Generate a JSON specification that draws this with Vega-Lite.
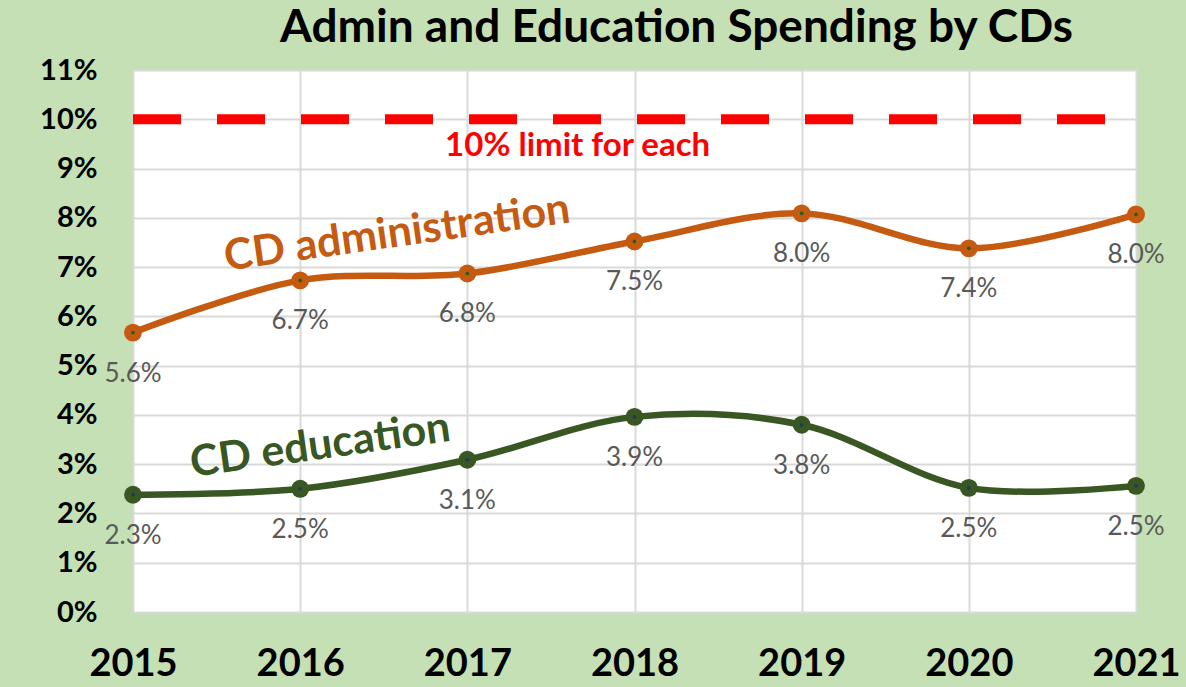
{
  "$schema": "https://vega.github.io/schema/vega-lite/v6.json",
  "width": 1003,
  "height": 542,
  "autosize": {"type": "none"},
  "padding": {"left": 133, "top": 70, "right": 50, "bottom": 75},
  "background": "#c5e0b4",
  "view": {"fill": "white", "stroke": null},
  "title": {
    "text": "Admin and Education Spending by CDs",
    "font": "Lato",
    "fontSize": 46,
    "fontWeight": "bold",
    "color": "black",
    "anchor": "middle",
    "frame": "group",
    "dx": 42,
    "baseline": "alphabetic",
    "offset": -32
  },
  "config": {"font": "Lato"},
  "datasets": {
    "series": [
      {"year": 2015, "series": "CD administration", "value": 0.0567, "label": "5.6%"},
      {"year": 2016, "series": "CD administration", "value": 0.0673, "label": "6.7%"},
      {"year": 2017, "series": "CD administration", "value": 0.0687, "label": "6.8%"},
      {"year": 2018, "series": "CD administration", "value": 0.0752, "label": "7.5%"},
      {"year": 2019, "series": "CD administration", "value": 0.0809, "label": "8.0%"},
      {"year": 2020, "series": "CD administration", "value": 0.0738, "label": "7.4%"},
      {"year": 2021, "series": "CD administration", "value": 0.0807, "label": "8.0%"},
      {"year": 2015, "series": "CD education", "value": 0.0238, "label": "2.3%"},
      {"year": 2016, "series": "CD education", "value": 0.0250, "label": "2.5%"},
      {"year": 2017, "series": "CD education", "value": 0.0309, "label": "3.1%"},
      {"year": 2018, "series": "CD education", "value": 0.0396, "label": "3.9%"},
      {"year": 2019, "series": "CD education", "value": 0.0380, "label": "3.8%"},
      {"year": 2020, "series": "CD education", "value": 0.0252, "label": "2.5%"},
      {"year": 2021, "series": "CD education", "value": 0.0256, "label": "2.5%"}
    ],
    "notes": [
      {"x": 2016.58, "y": 0.0768, "series": "CD administration", "text": "CD administration"},
      {"x": 2016.12, "y": 0.0337, "series": "CD education", "text": "CD education"}
    ],
    "limit": [
      {"x": 2017.66, "y": 0.0945, "text": "10% limit for each", "limit": 0.10, "start": 2015, "end": 2021}
    ]
  },
  "encoding": {
    "x": {
      "field": "year",
      "type": "quantitative",
      "scale": {"domain": [2015, 2021], "nice": false, "zero": false},
      "axis": {
        "title": null,
        "values": [2015, 2016, 2017, 2018, 2019, 2020, 2021],
        "format": "d",
        "labelFont": "Lato",
        "labelFontSize": 38,
        "labelFontWeight": "bold",
        "labelColor": "black",
        "labelPadding": 33,
        "labelBaseline": "top",
        "labelFlush": false,
        "ticks": false,
        "domain": false,
        "grid": true,
        "gridColor": "#d9d9d9",
        "gridWidth": 2
      }
    },
    "y": {
      "field": "value",
      "type": "quantitative",
      "scale": {"domain": [0, 0.11], "nice": false},
      "axis": {
        "title": null,
        "values": [0, 0.01, 0.02, 0.03, 0.04, 0.05, 0.06, 0.07, 0.08, 0.09, 0.10, 0.11],
        "format": ".0%",
        "labelFont": "Lato",
        "labelFontSize": 29,
        "labelFontWeight": "bold",
        "labelColor": "black",
        "labelPadding": 36,
        "labelFlush": false,
        "ticks": false,
        "domain": false,
        "grid": true,
        "gridColor": "#d9d9d9",
        "gridWidth": 2
      }
    }
  },
  "layer": [
    {
      "data": {"name": "limit"},
      "mark": {"type": "rule", "color": "#ff0000", "strokeWidth": 10, "strokeDash": [48, 36], "strokeCap": "butt"},
      "encoding": {
        "y": {"field": "limit", "type": "quantitative"},
        "x": {"field": "start", "type": "quantitative"},
        "x2": {"field": "end"}
      }
    },
    {
      "data": {"name": "series"},
      "mark": {"type": "line", "strokeWidth": 6.5, "interpolate": "catmull-rom"},
      "encoding": {
        "color": {
          "field": "series",
          "type": "nominal",
          "scale": {"domain": ["CD administration", "CD education"], "range": ["#c55a11", "#385723"]},
          "legend": null
        }
      }
    },
    {
      "data": {"name": "series"},
      "mark": {"type": "point", "filled": true, "shape": "circle", "size": 320, "opacity": 1},
      "encoding": {
        "color": {"field": "series", "type": "nominal", "legend": null}
      }
    },
    {
      "data": {"name": "series"},
      "mark": {"type": "point", "filled": true, "shape": "circle", "size": 14, "opacity": 1},
      "encoding": {
        "fill": {
          "field": "series",
          "type": "nominal",
          "scale": {"domain": ["CD administration", "CD education"], "range": ["#2f5a1e", "#1f3864"]},
          "legend": null
        }
      }
    },
    {
      "data": {"name": "series"},
      "mark": {"type": "text", "fontSize": 26, "color": "#595959", "dy": 41, "baseline": "middle", "align": "center", "font": "Lato"},
      "encoding": {"text": {"field": "label", "type": "nominal"}}
    },
    {
      "data": {"name": "notes"},
      "mark": {"type": "text", "fontSize": 43, "fontWeight": "bold", "angle": 352, "baseline": "middle", "align": "center", "font": "Lato"},
      "encoding": {
        "x": {"field": "x", "type": "quantitative"},
        "y": {"field": "y", "type": "quantitative"},
        "text": {"field": "text", "type": "nominal"},
        "color": {"field": "series", "type": "nominal", "legend": null}
      }
    },
    {
      "data": {"name": "limit"},
      "mark": {"type": "text", "fontSize": 33, "fontWeight": "bold", "color": "#ff0000", "baseline": "middle", "align": "center", "font": "Lato"},
      "encoding": {
        "x": {"field": "x", "type": "quantitative"},
        "y": {"field": "y", "type": "quantitative"},
        "text": {"field": "text", "type": "nominal"}
      }
    }
  ]
}
